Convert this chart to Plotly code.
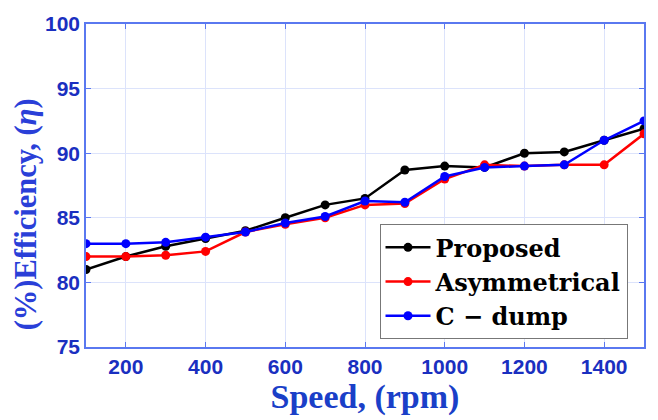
import plotly.graph_objects as go

speed = [100, 200, 300, 400, 500, 600, 700, 800, 900, 1000, 1100, 1200, 1300, 1400, 1500]
proposed = [81.0, 82.0, 82.8, 83.4, 84.0, 85.0, 86.0, 86.5, 88.7, 89.0, 88.9, 90.0, 90.1, 91.0, 91.9]
asymmetrical = [82.0, 82.0, 82.1, 82.4, 83.9, 84.5, 85.0, 86.0, 86.1, 88.0, 89.1, 89.0, 89.1, 89.1, 91.5]
cdump = [83.0, 83.0, 83.1, 83.5, 83.9, 84.6, 85.1, 86.3, 86.2, 88.2, 88.9, 89.0, 89.1, 91.0, 92.5]

x_ticks = [200, 400, 600, 800, 1000, 1200, 1400]
y_ticks = [75, 80, 85, 90, 95, 100]

series = [("Proposed", proposed, "black"),
          ("Asymmetrical", asymmetrical, "#ff0000"),
          ("C \u2212 dump", cdump, "#0000ff")]

fig = go.Figure()
for name, vals, col in series:
    fig.add_trace(go.Scatter(x=speed, y=vals, mode="lines+markers", name=name,
                             line=dict(color=col, width=2.5),
                             marker=dict(color=col, size=9)))

axis_col = "#5a78f0"
tick_font = dict(family="Liberation Sans, Arial, sans-serif", size=21, color="#1a2fc0", weight="bold")

fig.update_layout(
    width=658, height=420,
    margin=dict(l=86, r=13, t=17, b=73),
    paper_bgcolor="white", plot_bgcolor="white",
    showlegend=True,
    legend=dict(x=0.526, y=0.38, xanchor="left", yanchor="top",
                bgcolor="white", bordercolor="#777777", borderwidth=1,
                font=dict(family="DejaVu Serif, serif", size=24, color="black", weight="bold"),
                itemwidth=45, tracegroupgap=0),
    xaxis=dict(range=[100, 1500], tickvals=x_ticks, ticktext=[str(v) for v in x_ticks],
               showgrid=True, gridcolor="#dce3fb", gridwidth=1,
               showline=True, linecolor=axis_col, linewidth=1.5, mirror="ticks",
               ticks="inside", ticklen=5, tickcolor=axis_col,
               tickfont=tick_font, zeroline=False,
               title=dict(text="<b>Speed, (rpm)</b>", standoff=3,
                          font=dict(family="Liberation Serif, serif", size=34, color="#1a3fc8"))),
    yaxis=dict(range=[75, 100], tickvals=y_ticks, ticktext=[str(v) for v in y_ticks],
               showgrid=True, gridcolor="#dce3fb", gridwidth=1,
               showline=True, linecolor=axis_col, linewidth=1.5, mirror="ticks",
               ticks="inside", ticklen=5, tickcolor=axis_col,
               tickfont=tick_font, zeroline=False),
    annotations=[dict(text="<b>(%)Efficiency, (<i>η</i>)</b>", textangle=-90,
                      xref="paper", yref="paper", x=-0.108, y=0.41,
                      xanchor="center", yanchor="middle", showarrow=False,
                      font=dict(family="Liberation Serif, serif", size=30.5, color="#2a3fd8"))],
)

fig.write_html("out.html")
